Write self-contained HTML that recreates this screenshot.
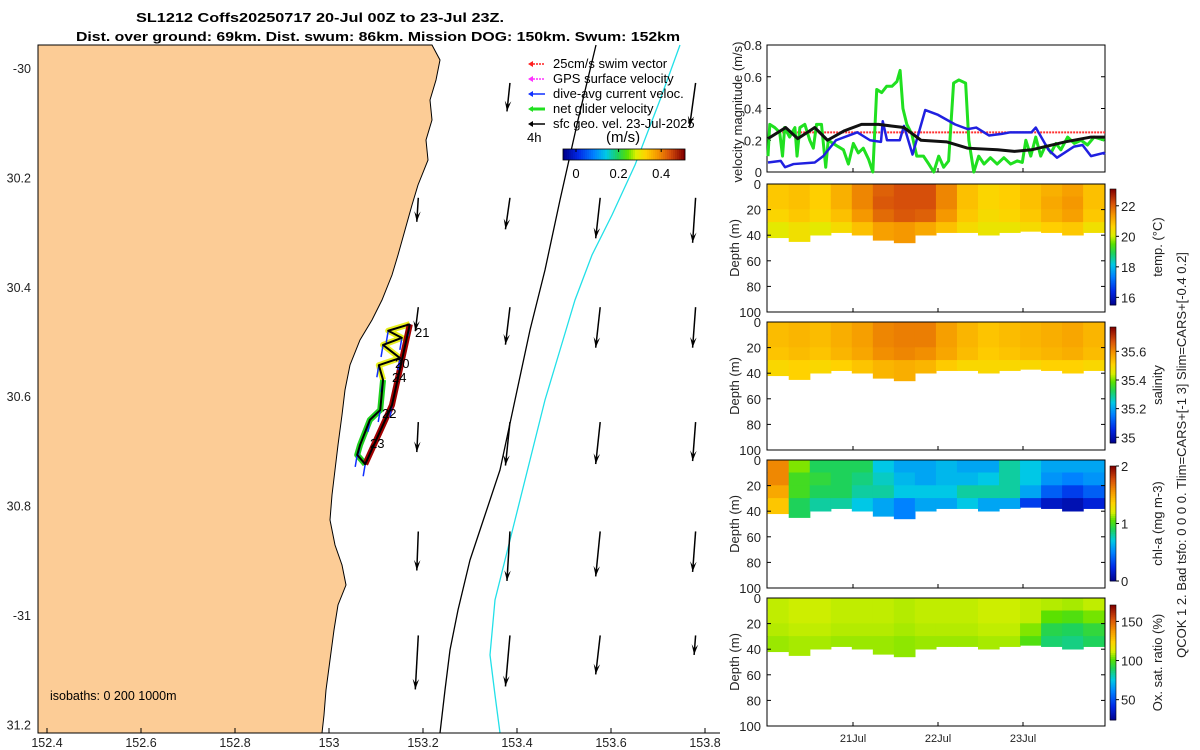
<!DOCTYPE html>
<html><head><meta charset="utf-8"><style>
html,body{margin:0;padding:0;background:#fff;}
svg{display:block;font-family:"Liberation Sans",sans-serif;}
</style></head><body>
<svg id="fig" width="1200" height="750" viewBox="0 0 1200 750" xmlns="http://www.w3.org/2000/svg">
<g id="title" font-weight="bold" font-size="13" text-anchor="middle">
<text x="320" y="22" textLength="368" lengthAdjust="spacingAndGlyphs">SL1212 Coffs20250717 20-Jul 00Z to 23-Jul 23Z.</text>
<text x="378" y="41" textLength="604" lengthAdjust="spacingAndGlyphs">Dist. over ground: 69km. Dist. swum: 86km. Mission DOG: 150km. Swum: 152km</text>
</g>
<g id="map"></g>
<g id="right"></g>
</svg>
<script>
// ---------- DATA ----------
const lonTicks=[152.4,152.6,152.8,153,153.2,153.4,153.6,153.8];
const lonTickLabels=['152.4','152.6','152.8','153','153.2','153.4','153.6','153.8'];
const latTicks=[30,30.2,30.4,30.6,30.8,31,31.2];
const latTickLabels=['-30','30.2','30.4','30.6','30.8','-31','31.2'];
const arrowLon=[153.19,153.385,153.577,153.78];
const arrowLat=[30.02,30.23,30.43,30.64,30.84,31.03];
const arrowU=[[0,-0.02,-0.0,-0.04],[-0.01,-0.03,-0.03,-0.02],[-0.02,-0.03,-0.03,-0.02],[-0.01,-0.03,-0.03,-0.02],[-0.01,-0.02,-0.03,-0.02],[-0.02,-0.03,-0.03,-0.01]];
const arrowV=[[-0.0,-0.19,-0.0,-0.29],[-0.16,-0.21,-0.27,-0.3],[-0.16,-0.25,-0.27,-0.27],[-0.2,-0.29,-0.28,-0.26],[-0.26,-0.33,-0.3,-0.27],[-0.36,-0.34,-0.26,-0.13]];
const trackLon=[153.172,153.126,153.155,153.115,153.151,153.106,153.115,153.109,153.087,153.066,153.06,153.077,153.134,153.172];
const trackLat=[30.461,30.473,30.486,30.499,30.523,30.536,30.563,30.618,30.636,30.682,30.7,30.717,30.609,30.461];
const hrsGreen=[0,0.5,1.9,3.3,4.1,4.7,6.1,7.6,8.2,9,10.4,11.8,12.8,13.7,15.1,16.3,17,18.4,19.8,21.3,22.7,24.1,25.5,26.9,28.4,29.6,30.7,32.1,33.5,35,36.4,37.3,38.1,39.2,40.6,42,43.9,45.4,46.8,48.2,49.6,51,52.4,53.9,55.8,56.7,58.1,59.5,61,62.8,64.7,66.6,68.5,70.4,71.8,72.8,74.2,75.6,77,78.4,79.9,81.3,82.7,84.6,86.5,88.4,90.2,92.1,95];
const velGreen=[0.1,0.3,0.28,0.25,0.1,0.28,0.22,0.28,0.1,0.28,0.3,0.2,0.15,0.3,0.3,0.03,0.2,0.18,0.16,0.14,0.05,0.18,0.12,0.15,0.08,0.0,0.52,0.5,0.54,0.54,0.57,0.64,0.4,0.3,0.24,0.1,0.1,0.05,0.0,0.1,0.03,0.07,0.56,0.58,0.56,0.2,0.0,0.1,0.05,0.09,0.05,0.09,0.05,0.07,0.06,0.2,0.1,0.22,0.1,0.17,0.12,0.18,0.14,0.22,0.18,0.2,0.17,0.22,0.2];
const hrsBlack=[0,5,8.4,13.2,16.8,21.6,26.4,31.2,34.8,38.4,43.2,50.4,56.4,64.8,69.6,74.4,84,91.2,95];
const velBlack=[0.21,0.28,0.21,0.28,0.2,0.26,0.3,0.3,0.29,0.28,0.2,0.19,0.15,0.14,0.13,0.14,0.19,0.22,0.22];
const hrsBlue=[0,3.6,4.8,7.2,13.2,15.6,19.2,24,25.2,28.8,31.9,32.4,33.6,37.2,38.4,40.8,44.4,48,52.8,56.4,58.8,62.4,66,68.4,74.4,75.6,79.2,81.6,86.4,88.8,91.2,94.8,95];
const velBlue=[0.06,0.07,0.03,0.05,0.06,0.1,0.2,0.24,0.25,0.2,0.19,0.32,0.2,0.2,0.29,0.11,0.39,0.36,0.3,0.27,0.28,0.23,0.24,0.25,0.25,0.28,0.14,0.09,0.16,0.17,0.1,0.12,0.11];
const swimSpeed=0.25;
const velTicks=[0,0.2,0.4,0.6,0.8];
const dayTickLabels=['21Jul','22Jul','23Jul'];
const depthTicks=[0,20,40,60,80,100];
const bottomDepth=[42,45,40,38,40,44,46,40,38,38,40,38,37,38,40,38];
const tempGrid=[[20.8,20.9,20.7,21.1,21.6,22.0,22.2,22.2,21.6,20.9,20.6,20.7,20.9,21.1,21.3,20.9],[20.8,20.9,20.7,21.1,21.6,22.1,22.2,22.2,21.6,20.9,20.6,20.7,20.9,21.2,21.4,20.9],[20.6,20.8,20.6,20.9,21.4,21.9,22.1,22.0,21.4,20.8,20.5,20.6,20.8,21.1,21.3,20.8],[20.2,20.4,20.2,20.5,20.9,21.3,21.4,21.2,20.9,20.5,20.3,20.3,20.5,20.7,20.8,20.4]];
const salGrid=[[35.54,35.55,35.54,35.56,35.58,35.61,35.62,35.62,35.58,35.55,35.53,35.54,35.55,35.56,35.57,35.55],[35.54,35.55,35.54,35.56,35.58,35.61,35.62,35.62,35.58,35.55,35.53,35.54,35.55,35.56,35.57,35.55],[35.53,35.54,35.53,35.55,35.57,35.6,35.61,35.6,35.57,35.54,35.52,35.53,35.54,35.55,35.56,35.54],[35.5,35.51,35.5,35.51,35.53,35.55,35.56,35.55,35.52,35.5,35.5,35.5,35.5,35.51,35.51,35.5]];
const chlGrid=[[1.6,1.1,0.9,0.9,0.9,0.7,0.6,0.6,0.65,0.6,0.6,0.8,0.7,0.6,0.6,0.6],[1.6,1.0,0.95,0.9,0.85,0.75,0.65,0.6,0.65,0.65,0.7,0.8,0.7,0.55,0.5,0.55],[1.5,1.0,0.9,0.9,0.8,0.8,0.7,0.7,0.7,0.8,0.8,0.8,0.6,0.4,0.3,0.4],[1.4,0.9,0.8,0.8,0.7,0.6,0.5,0.6,0.6,0.7,0.6,0.6,0.3,0.15,0.1,0.2]];
const oxGrid=[[110,111,111,110,110,110,109,110,110,110,111,111,110,109,108,110],[110,111,111,110,110,110,109,110,110,110,111,111,110,102,100,104],[109,110,110,109,109,109,108,109,109,109,110,110,105,92,90,94],[107,108,108,107,107,107,106,107,107,107,108,108,100,88,86,90]];
const panelRanges=[[15.5,23.1],[34.96,35.77],[0,2],[24,171]];
const cbTickVals=[[16,18,20,22],[35,35.2,35.4,35.6],[0,1,2],[50,100,150]];
const cbTickLabels=[['16','18','20','22'],['35','35.2','35.4','35.6'],['0','1','2'],['50','100','150']];
const cbTitles=['temp. (°C)','salinity','chl-a (mg m-3)','Ox. sat. ratio (%)'];
const mapCbTicks=[0,0.2,0.4];

// ---------- helpers ----------
const NS='http://www.w3.org/2000/svg';
function mk(tag,attrs,parent){const e=document.createElementNS(NS,tag);for(const k in attrs)e.setAttribute(k,attrs[k]);parent.appendChild(e);return e;}
const CM=[[0,0,0,140],[0.12,0,40,230],[0.25,0,130,255],[0.35,0,200,230],[0.45,30,210,90],[0.53,90,225,0],[0.6,220,240,0],[0.68,255,210,0],[0.78,245,150,0],[0.88,215,80,10],[1,130,0,0]];
function jet(t){t=Math.max(0,Math.min(1,t));for(let i=1;i<CM.length;i++){if(t<=CM[i][0]){const a=CM[i-1],b=CM[i],f=(t-a[0])/(b[0]-a[0]);
  return `rgb(${Math.round(a[1]+f*(b[1]-a[1]))},${Math.round(a[2]+f*(b[2]-a[2]))},${Math.round(a[3]+f*(b[3]-a[3]))})`;}}return 'rgb(130,0,0)';}
const lonX=lon=>47+(lon-152.4)*470;
const latY=lat=>72+(lat-30)*547;

// ---------- MAP ----------
const map=document.getElementById('map');
const mL=38,mT=45,mR=720,mB=733;
mk('rect',{x:mL,y:mT,width:mR-mL,height:mB-mT,fill:'#fff'},map);
const land=mk('path',{d:'M38,45 L432,45 L440,60 L436,80 L430,100 L432,120 L426,140 L428,160 L418,185 L412,205 L405,230 L398,255 L392,275 L382,300 L372,320 L360,340 L350,365 L345,390 L342,415 L338,445 L335,470 L332,495 L330,520 L335,545 L342,565 L346,585 L338,605 L334,630 L330,660 L326,690 L324,715 L322,733 L38,733 Z',fill:'#fccc96',stroke:'#000','stroke-width':1},map);


const iso1=mk('polyline',{points:'596,45 578,120 560,200 545,270 530,330 515,400 500,470 480,530 470,560 458,610 450,650 445,690 440,733',fill:'none',stroke:'#000','stroke-width':1.3},map);


const iso2=mk('polyline',{points:'680,45 660,100 635,165 612,215 592,255 575,300 560,350 545,400 530,460 515,520 495,600 490,655 495,695 500,733',fill:'none',stroke:'#22e0e8','stroke-width':1.3},map);


const ag=mk('g',{},map);


const AS=150;
arrowLat.forEach((la,r)=>arrowLon.forEach((lo,c)=>{
  const u=arrowU[r][c],v=arrowV[r][c];const sp=Math.hypot(u,v);if(sp<0.01)return;
  const x0=lonX(lo),y0=latY(la),x1=x0+u*AS,y1=y0-v*AS;
  const a=mk('g',{},ag);
  
  
  mk('line',{x1:x0,y1:y0,x2:x1,y2:y1,stroke:'#000','stroke-width':1.5},a);
  const ang=Math.atan2(y1-y0,x1-x0),h=11;
  const p=(d)=>[x1-h*Math.cos(ang+d),y1-h*Math.sin(ang+d)];
  const [ax,ay]=p(0.3),[bx,by]=p(-0.3);
  mk('polygon',{points:`${x1},${y1} ${ax},${ay} ${x1-6*Math.cos(ang)},${y1-6*Math.sin(ang)} ${bx},${by}`,fill:'#000'},a);
}));
const tg=mk('g',{},map);


const tp=(i0,i1)=>trackLon.slice(i0,i1).map((lo,i)=>lonX(lo)+','+latY(trackLat[i0+i])).join(' ');
mk('polyline',{points:tp(0,7),fill:'none',stroke:'#e8f020','stroke-width':6,'stroke-linejoin':'round'},tg);
mk('polyline',{points:tp(6,12),fill:'none',stroke:'#20d020','stroke-width':6,'stroke-linejoin':'round'},tg);
mk('polyline',{points:tp(11,14),fill:'none',stroke:'#a00000','stroke-width':6,'stroke-linejoin':'round'},tg);
for(let i=0;i<trackLon.length;i++){
  const b=mk('line',{x1:lonX(trackLon[i]),y1:latY(trackLat[i]),x2:lonX(trackLon[i])-2,y2:latY(trackLat[i])+12,stroke:'#1030ff','stroke-width':1.5},tg);
  
  
}
mk('polyline',{points:tp(0,14),fill:'none',stroke:'#000','stroke-width':2,'stroke-linejoin':'round'},tg);
[['21',415,337],['20',395,368],['24',392,382],['22',382,418],['23',370,448]].forEach(d=>{
  const t=mk('text',{x:d[1],y:d[2],'font-size':13},tg);t.textContent=d[0];
  
  
});
mk('line',{x1:mL,y1:mB,x2:mR,y2:mB,stroke:'#000'},map);
lonTicks.forEach((v,i)=>{const x=lonX(v);mk('line',{x1:x,y1:mB,x2:x,y2:mB-5,stroke:'#000'},map);
  const t=mk('text',{x:x,y:mB+14,'font-size':12.5,'text-anchor':'middle',fill:'#222'},map);t.textContent=lonTickLabels[i];
  });
latTicks.forEach((v,i)=>{const y=latY(v);
  const t=mk('text',{x:31,y:y+1,'font-size':12.5,'text-anchor':'end',fill:'#222'},map);t.textContent=latTickLabels[i];
  });
const iso=mk('text',{x:50,y:700,'font-size':12.5},map);iso.textContent='isobaths: 0   200  1000m';

const lg=mk('g',{'font-size':13},map);


[['25cm/s swim vector','#ff2020'],['GPS surface velocity','#ff30ff'],['dive-avg current veloc.','#1030ff'],['net glider velocity','#20e020'],['sfc geo. vel. 23-Jul-2025','#000']].forEach((d,i)=>{
  const y=68+i*15;
  const e=mk('g',{},lg);
  mk('line',{x1:530,y1:y-4,x2:545,y2:y-4,stroke:d[1],'stroke-width':i==3?3:1.5,'stroke-dasharray':i<2?'2 1':''},e);
  mk('polygon',{points:`528,${y-4} 533,${y-7} 533,${y-1}`,fill:d[1]},e);
  const t=mk('text',{x:553,y:y},e);t.textContent=d[0];
});
const t4=mk('text',{x:527,y:142,'font-size':13},lg);t4.textContent='4h';
const tms=mk('text',{x:606,y:142,'font-size':15},lg);tms.textContent='(m/s)';
const mcb=mk('g',{},map);
for(let i=0;i<61;i++)mk('rect',{x:563+i*2,y:149,width:2.2,height:11,fill:jet(i/60)},mcb);
mk('rect',{x:563,y:149,width:122,height:11,fill:'none',stroke:'#000','stroke-width':0.8},mcb);
mapCbTicks.forEach(v=>{const x=576+v*213;mk('line',{x1:x,y1:149,x2:x,y2:152,stroke:'#000'},mcb);
  const t=mk('text',{x:x,y:178,'font-size':13,'text-anchor':'middle'},mcb);t.textContent=String(v);});

// ---------- RIGHT PANELS ----------
const R=document.getElementById('right');
const pL=767,pR=1105;
const hx=h=>768+h*(85/24);
const vT=45,vB=172;
const vy=v=>vB-v*(vB-vT)/0.8;
const vg=mk('g',{},R);
mk('rect',{x:pL,y:vT,width:pR-pL,height:vB-vT,fill:'#fff',stroke:'#000'},vg);
velTicks.forEach(v=>{const y=vy(v);mk('line',{x1:pL,y1:y,x2:pL+4,y2:y,stroke:'#000'},vg);mk('line',{x1:pR,y1:y,x2:pR-4,y2:y,stroke:'#000'},vg);
  const t=mk('text',{x:762,y:y+5,'font-size':13,'text-anchor':'end',fill:'#222'},vg);t.textContent=String(v);});
const sl=mk('line',{x1:hx(4),y1:vy(swimSpeed),x2:pR,y2:vy(swimSpeed),stroke:'#ff3030','stroke-width':2,'stroke-dasharray':'2 1'},vg);

function series(h,v,col,w,name){const p=mk('polyline',{points:h.map((x,i)=>hx(x)+','+vy(v[i])).join(' '),fill:'none',stroke:col,'stroke-width':w,'stroke-linejoin':'round'},vg);
  }
series(hrsGreen,velGreen,'#20e020',3,'net-glider-velocity-line');
series(hrsBlue,velBlue,'#2020e0',2.5,'dive-avg-current-line');
series(hrsBlack,velBlack,'#111',3,'sfc-geo-velocity-line');
const vl=mk('text',{transform:'translate(742,112) rotate(-90)','font-size':13,'text-anchor':'middle',fill:'#222'},vg);vl.textContent='velocity magnitude (m/s)';
const grids=[tempGrid,salGrid,chlGrid,oxGrid];
const tops=[184,322,460,598];
const cbT=[189,327,466,605],cbB=[305,443,581,720];
const names=['temperature','salinity','chlorophyll','oxygen'];
grids.forEach((G,k)=>{
  const top=tops[k],dy=d=>top+d*1.28;
  const g=mk('g',{},R);
  mk('rect',{x:pL,y:top,width:pR-pL,height:128,fill:'#fff'},g);
  const [lo,hi]=panelRanges[k];
  const nc=G[0].length,cw=(hx(95)-hx(0))/nc;
  for(let c=0;c<nc;c++)for(let r=0;r<4;r++){
    const d0=r*10,d1=r==3?bottomDepth[c]:(r+1)*10;
    const cell=mk('rect',{x:hx(0)+c*cw-0.3,y:dy(d0)-0.3,width:cw+0.6,height:dy(d1)-dy(d0)+0.6,fill:jet((G[r][c]-lo)/(hi-lo))},g);
    
    
  }
  mk('rect',{x:pL,y:top,width:pR-pL,height:128,fill:'none',stroke:'#000'},g);
  depthTicks.forEach(d=>{const y=dy(d);mk('line',{x1:pL,y1:y,x2:pL+4,y2:y,stroke:'#000'},g);mk('line',{x1:pR,y1:y,x2:pR-4,y2:y,stroke:'#000'},g);
    const t=mk('text',{x:761,y:y+5,'font-size':13,'text-anchor':'end',fill:'#222'},g);t.textContent=String(d);});
  const dl=mk('text',{transform:`translate(739,${top+64}) rotate(-90)`,'font-size':13,'text-anchor':'middle',fill:'#222'},g);dl.textContent='Depth (m)';
  const cb=mk('g',{},g);
  const h=cbB[k]-cbT[k];
  for(let i=0;i<58;i++)mk('rect',{x:1110,y:cbB[k]-(i+1)*h/58,width:6,height:h/58+0.4,fill:jet((i+0.5)/58)},cb);
  mk('rect',{x:1110,y:cbT[k],width:6,height:h,fill:'none',stroke:'#000','stroke-width':0.6},cb);
  cbTickVals[k].forEach((v,i)=>{const y=cbB[k]-(v-lo)/(hi-lo)*h;mk('line',{x1:1116,y1:y,x2:1119,y2:y,stroke:'#000'},cb);
    const t=mk('text',{x:1121,y:y+5,'font-size':13,fill:'#222'},cb);t.textContent=cbTickLabels[k][i];});
  const ct=mk('text',{transform:`translate(1162,${(cbT[k]+cbB[k])/2}) rotate(-90)`,'font-size':13,'text-anchor':'middle',fill:'#222'},cb);ct.textContent=cbTitles[k];
});
[1,2,3].forEach((d,i)=>{const x=hx(d*24);
  [[vB,-4],[312,-4],[450,-4],[588,-4],[726,-4]].forEach(a=>mk('line',{x1:x,y1:a[0],x2:x,y2:a[0]+a[1],stroke:'#000'},R));
  const t=mk('text',{x:x,y:742,'font-size':11,'text-anchor':'middle',fill:'#222'},R);t.textContent=dayTickLabels[i];
  });
const qc=mk('text',{transform:'translate(1186,455) rotate(-90)','font-size':13,'text-anchor':'middle',fill:'#222'},R);
qc.textContent='QCOK 1  2. Bad tsfo: 0  0  0  0. Tlim=CARS+[-1 3] Slim=CARS+[-0.4 0.2]';

</script>
</body></html>
